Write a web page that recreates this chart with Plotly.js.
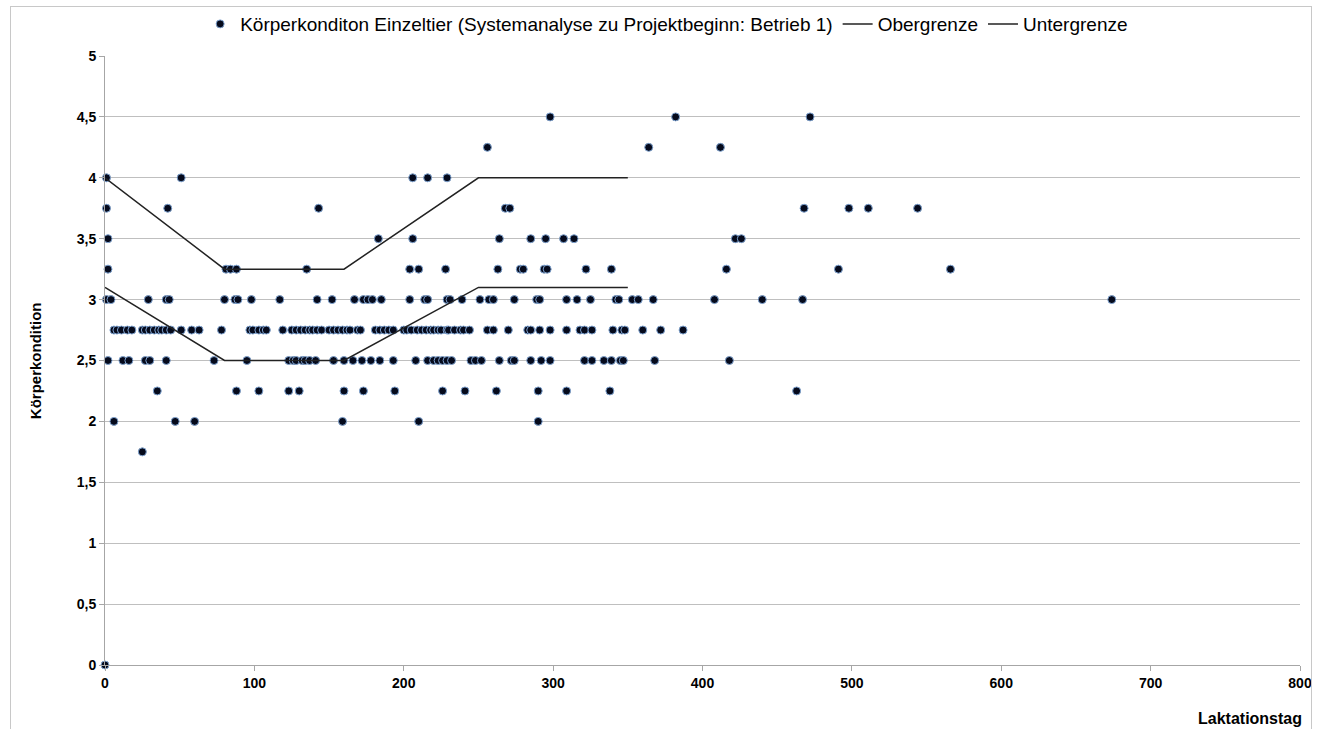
<!DOCTYPE html>
<html>
<head>
<meta charset="utf-8">
<script src="https://cdn.plot.ly/plotly-3.0.1.min.js"></script>
<style>
html,body{margin:0;padding:0;background:#fff;}
#frame{position:absolute;left:10px;top:6px;width:1302px;height:760px;border:1px solid #c8c8c8;box-sizing:border-box;pointer-events:none;}
#chart{position:absolute;left:0;top:0;width:1327px;height:729px;}
</style>
</head>
<body>
<div id="chart"></div>
<div id="frame"></div>
<script>
// Laktationstag per Körperkondition-Stufe
const days_0_00 = [0];
const days_1_75 = [25];
const days_2_00 = [6, 47, 60, 159, 210, 290];
const days_2_25 = [35, 88, 103, 123, 130, 160, 173, 194, 226, 241, 262, 290, 309, 338, 463];
const days_2_50 = [2, 12, 16, 27, 30, 41, 73, 95, 123, 126, 128, 132, 134, 137, 141, 153, 160, 166, 172, 178, 184, 193, 208, 216, 220, 223, 226, 229, 232, 245, 248, 252, 264, 272, 274, 285, 292, 298, 321, 326, 334, 339, 345, 347, 368, 418];
const days_2_75 = [6, 8, 11, 15, 18, 25, 27, 30, 33, 36, 38, 41, 44, 51, 58, 63, 78, 97, 99, 103, 106, 108, 119, 125, 128, 131, 134, 137, 139, 142, 145, 150, 153, 156, 159, 162, 164, 169, 171, 181, 184, 187, 190, 193, 200, 202, 205, 209, 212, 215, 218, 220, 223, 225, 229, 230, 234, 238, 240, 244, 256, 260, 270, 283, 285, 291, 298, 309, 318, 321, 326, 340, 346, 348, 360, 372, 387];
const days_3_00 = [1, 4, 29, 41, 43, 80, 87, 89, 98, 117, 142, 152, 167, 173, 176, 179, 185, 204, 214, 216, 229, 231, 239, 251, 257, 260, 274, 289, 291, 309, 316, 325, 342, 344, 353, 357, 367, 408, 440, 467, 674];
const days_3_25 = [2, 81, 84, 88, 135, 204, 210, 228, 263, 278, 280, 294, 296, 322, 339, 416, 491, 566];
const days_3_50 = [2, 183, 206, 264, 285, 295, 307, 314, 422, 426];
const days_3_75 = [1, 42, 143, 268, 271, 468, 498, 511, 544];
const days_4_00 = [1, 51, 206, 216, 229];
const days_4_25 = [256, 364, 412];
const days_4_50 = [298, 382, 472];

const scoreLevels = [0, 1.75, 2, 2.25, 2.5, 2.75, 3, 3.25, 3.5, 3.75, 4, 4.25, 4.5];
const dayGroups = [days_0_00, days_1_75, days_2_00, days_2_25, days_2_50, days_2_75, days_3_00, days_3_25, days_3_50, days_3_75, days_4_00, days_4_25, days_4_50];

// Grenzlinien
const limitDays = [0, 80, 160, 250, 350];
const oberGrenze = [4, 3.25, 3.25, 4, 4];
const unterGrenze = [3.1, 2.5, 2.5, 3.1, 3.1];

const xTicks = [0, 100, 200, 300, 400, 500, 600, 700, 800];
const yTicks = [0, 0.5, 1, 1.5, 2, 2.5, 3, 3.5, 4, 4.5, 5];

const px = [], py = [];
dayGroups.forEach((g, i) => g.forEach(d => { px.push(d); py.push(scoreLevels[i]); }));

const FONT = 'Liberation Sans, Arial, sans-serif';

const traces = [
  {
    type: 'scatter', mode: 'markers', x: px, y: py,
    name: 'Körperkonditon Einzeltier (Systemanalyse zu Projektbeginn: Betrieb 1)',
    marker: {size: 8, color: '#050a1c', line: {color: '#7fa3d0', width: 1}},
    cliponaxis: false
  },
  {
    type: 'scatter', mode: 'lines', x: limitDays, y: oberGrenze, name: 'Obergrenze',
    line: {color: '#222222', width: 1.5}
  },
  {
    type: 'scatter', mode: 'lines', x: limitDays, y: unterGrenze, name: 'Untergrenze',
    line: {color: '#222222', width: 1.5}
  }
];

const layout = {
  width: 1327, height: 729,
  margin: {l: 105, r: 27, t: 56, b: 64, autoexpand: false},
  paper_bgcolor: '#ffffff', plot_bgcolor: '#ffffff',
  separators: ',.',
  font: {family: FONT, size: 13, color: '#000'},
  showlegend: true,
  legend: {
    orientation: 'h', x: 0.47, xanchor: 'center', y: 1.0525, yanchor: 'middle',
    font: {family: FONT, size: 19, color: '#000'},
    itemwidth: 30, tracegroupgap: 0, traceorder: 'normal'
  },
  xaxis: {
    range: [0, 800], tickvals: xTicks, ticktext: xTicks.map(String),
    showgrid: false, zeroline: false,
    showline: true, linecolor: '#a6a6a6', linewidth: 1,
    ticks: 'outside', ticklen: 5, tickcolor: '#a6a6a6',
    tickfont: {family: FONT, size: 14, color: '#000', weight: 'bold'}
  },
  yaxis: {
    range: [0, 5], tickvals: yTicks, ticktext: yTicks.map(v => String(v).replace('.', ',')),
    showgrid: true, gridcolor: '#bfbfbf', gridwidth: 1, zeroline: false,
    showline: true, linecolor: '#a6a6a6', linewidth: 1,
    ticks: 'outside', ticklen: 5, tickcolor: '#a6a6a6',
    tickfont: {family: FONT, size: 14, color: '#000', weight: 'bold'}
  },
  annotations: [
    {text: '<b>Körperkondition</b>', xref: 'paper', yref: 'paper', x: -0.058, y: 0.5,
     xanchor: 'center', yanchor: 'middle', textangle: -90, showarrow: false,
     font: {family: FONT, size: 15, color: '#000'}},
    {text: '<b>Laktationstag</b>', xref: 'paper', yref: 'paper', x: 1.003, y: -0.088,
     xanchor: 'right', yanchor: 'middle', showarrow: false,
     font: {family: FONT, size: 16, color: '#000'}}
  ]
};

Plotly.newPlot('chart', traces, layout, {displayModeBar: false, staticPlot: true});
</script>
</body>
</html>
